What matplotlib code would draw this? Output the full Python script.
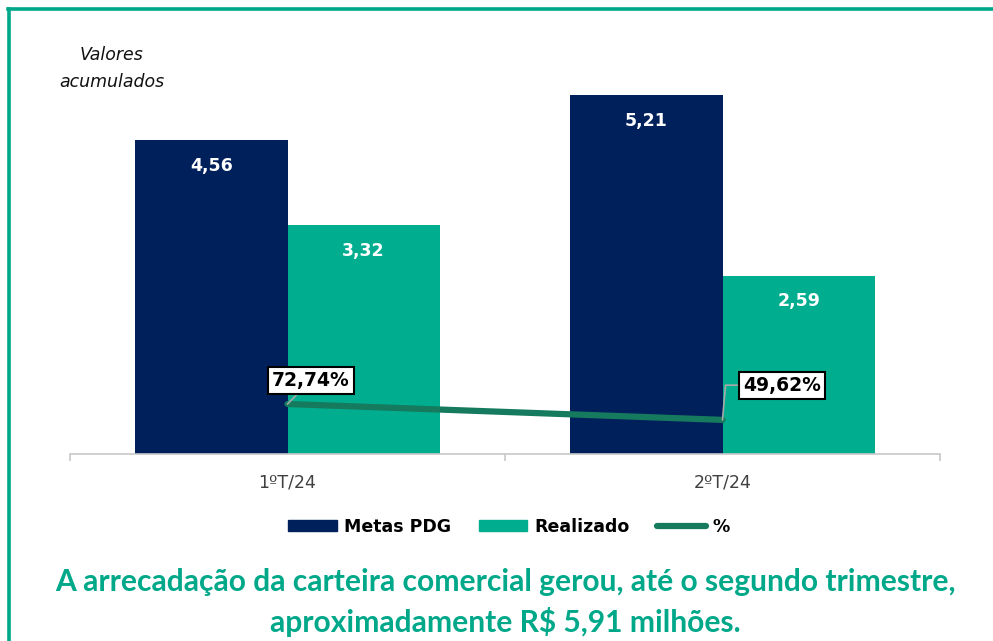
import matplotlib
matplotlib.use("Agg")
import matplotlib.pyplot as plt
from matplotlib.patches import Patch
from matplotlib.lines import Line2D
import numpy as np

categories = ["1ºT/24", "2ºT/24"]
metas = [4.56, 5.21]
realizado = [3.32, 2.59]
pct = [72.74, 49.62]
metas_labels = ["4,56", "5,21"]
real_labels = ["3,32", "2,59"]
pct_labels = ["72,74%", "49,62%"]

NAVY = "#00205B"
TEAL = "#00AE8F"
LINE = "#167A5E"
BORDER = "#00A88A"

W, H = 993, 641
fig = plt.figure(figsize=(W / 100, H / 100), dpi=100)

def fx(px):
    return px / W

def fy(py):
    return 1 - py / H

ax = fig.add_axes([fx(70), fy(454), fx(940) - fx(70), fy(60) - fy(454)])
x = np.arange(len(categories))
bw = 0.35
ax.bar(x - bw / 2, metas, bw, color=NAVY)
ax.bar(x + bw / 2, realizado, bw, color=TEAL)
ax.set_xlim(-0.5, 1.5)
ax.set_ylim(0, 5.72)
for xi, v, lab in zip(x, metas, metas_labels):
    ax.annotate(lab, (xi - bw / 2, v), xytext=(0, -18.5), textcoords="offset points",
                ha="center", va="center", color="white", fontweight="bold",
                fontsize=12.5, family="DejaVu Sans")
for xi, v, lab in zip(x, realizado, real_labels):
    ax.annotate(lab, (xi + bw / 2, v), xytext=(0, -18.5), textcoords="offset points",
                ha="center", va="center", color="white", fontweight="bold",
                fontsize=12.5, family="DejaVu Sans")

for s in ["top", "right", "left"]:
    ax.spines[s].set_visible(False)
ax.spines["bottom"].set_color("#C8C8C8")
ax.spines["bottom"].set_linewidth(1.2)
ax.set_yticks([])
ax.set_xticks([-0.5, 0.5, 1.5], minor=False)
ax.set_xticklabels([])
ax.tick_params(axis="x", length=5, color="#C8C8C8", width=1.2)
ax.set_xticks(x, minor=True)
ax.set_xticklabels(categories, minor=True)
ax.tick_params(axis="x", which="minor", length=0, pad=14, labelsize=12.5,
               labelcolor="#404040")

ax2 = ax.twinx()
ax2.set_ylim(0, 573)
ax2.plot(x, pct, color=LINE, linewidth=4.5, solid_capstyle="round")
ax2.axis("off")

ax2.annotate(pct_labels[0], (x[0], pct[0]), xytext=(17, 17), textcoords="offset points",
             ha="center", va="center", fontsize=13.5, fontweight="bold", color="black",
             bbox=dict(boxstyle="square,pad=0.22", fc="white", ec="black", lw=1.5),
             arrowprops=dict(arrowstyle="-", color="#A8A8A8", lw=1.2, shrinkA=0, shrinkB=0))
ax2.annotate(pct_labels[1], (x[1], pct[1]), xytext=(43, 25), textcoords="offset points",
             ha="center", va="center", fontsize=13.5, fontweight="bold", color="black",
             bbox=dict(boxstyle="square,pad=0.22", fc="white", ec="black", lw=1.5),
             arrowprops=dict(arrowstyle="-", color="#A8A8A8", lw=1.2, shrinkA=0, shrinkB=0,
                             connectionstyle="angle,angleA=0,angleB=85,rad=0"))

fig.text(fx(112), fy(55), "Valores", ha="center", va="center", style="italic",
         fontsize=12.5, color="#111111")
fig.text(fx(112), fy(82), "acumulados", ha="center", va="center", style="italic",
         fontsize=12.5, color="#111111")

handles = [Patch(color=NAVY), Patch(color=TEAL), Line2D([0], [0], color=LINE, lw=4.5,
                                                         solid_capstyle="round")]
fig.legend(handles, ["Metas PDG", "Realizado", "%"], loc="center",
           bbox_to_anchor=(fx(509), fy(527)), ncol=3, frameon=False,
           prop=dict(weight="bold", size=12.5), handlelength=2.8, handleheight=0.6,
           columnspacing=1.6, handletextpad=0.4)

fig.text(fx(505), fy(582), "A arrecadação da carteira comercial gerou, até o segundo trimestre,",
         ha="center", va="center", fontsize=21.6, fontweight="bold", color=BORDER,
         family="Lato")
fig.text(fx(505), fy(622), "aproximadamente R$ 5,91 milhões.",
         ha="center", va="center", fontsize=21.6, fontweight="bold", color=BORDER,
         family="Lato")

fig.add_artist(Line2D([fx(8), 1], [fy(9), fy(9)], color=BORDER, lw=2.6))
fig.add_artist(Line2D([fx(8.5), fx(8.5)], [fy(9), 0], color=BORDER, lw=2.6))

fig.savefig("out.png", dpi=100)
